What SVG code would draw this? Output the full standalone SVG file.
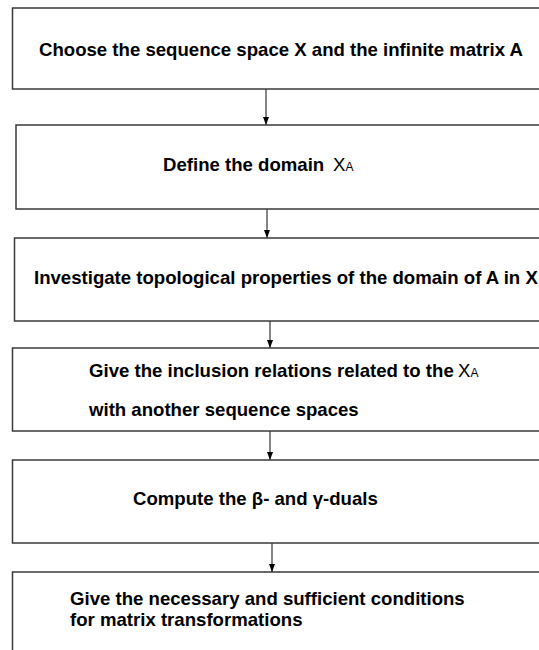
<svg xmlns="http://www.w3.org/2000/svg" width="539" height="650" viewBox="0 0 539 650">
<style>
.box{fill:#fff;stroke:#3a3a3a;stroke-width:1.5}
.t{font-family:"Liberation Sans",Arial,sans-serif;font-weight:bold;font-size:18.6px;fill:#000}
.s{font-weight:normal}
.c{stroke:#444;stroke-width:1.3;fill:none}
</style>
<defs>
<marker id="ah" markerWidth="8" markerHeight="6" refX="8" refY="3" orient="auto" markerUnits="userSpaceOnUse">
<path d="M0,0 L8,3 L0,6 z" fill="#000"/>
</marker>
</defs>
<rect width="539" height="650" fill="#fff"/>
<g id="connectors">
<line class="c" x1="266" y1="89" x2="266" y2="125" marker-end="url(#ah)"/>
<line class="c" x1="267" y1="209" x2="267" y2="238" marker-end="url(#ah)"/>
<line class="c" x1="270" y1="321" x2="270" y2="348" marker-end="url(#ah)"/>
<line class="c" x1="270" y1="431" x2="270" y2="460" marker-end="url(#ah)"/>
<line class="c" x1="272" y1="543" x2="272" y2="572" marker-end="url(#ah)"/>
</g>
<g id="n1"><rect class="box" x="12.5" y="8" width="540" height="81"/>
<text class="t" x="39" y="56">Choose the sequence space X and the infinite matrix A</text></g>
<g id="n2"><rect class="box" x="16" y="125" width="540" height="84"/>
<text class="t" x="163" y="171">Define the domain <tspan class="s" x="333">X</tspan><tspan class="s" font-size="12">A</tspan></text></g>
<g id="n3"><rect class="box" x="14.5" y="238" width="540" height="83"/>
<text class="t" x="34" y="284">Investigate topological properties of the domain of A in X</text></g>
<g id="n4"><rect class="box" x="12.5" y="348" width="540" height="83"/>
<text class="t" x="89" y="377">Give the inclusion relations related to the <tspan class="s" x="458">X</tspan><tspan class="s" font-size="12">A</tspan></text>
<text class="t" x="89" y="416">with another sequence spaces</text></g>
<g id="n5"><rect class="box" x="12.5" y="460" width="540" height="83"/>
<text class="t" x="133" y="505">Compute the β- and γ-duals</text></g>
<g id="n6"><rect class="box" x="12.5" y="572" width="540" height="100"/>
<text class="t" x="70" y="605">Give the necessary and sufficient conditions</text>
<text class="t" x="70" y="626">for matrix transformations</text></g>
</svg>
